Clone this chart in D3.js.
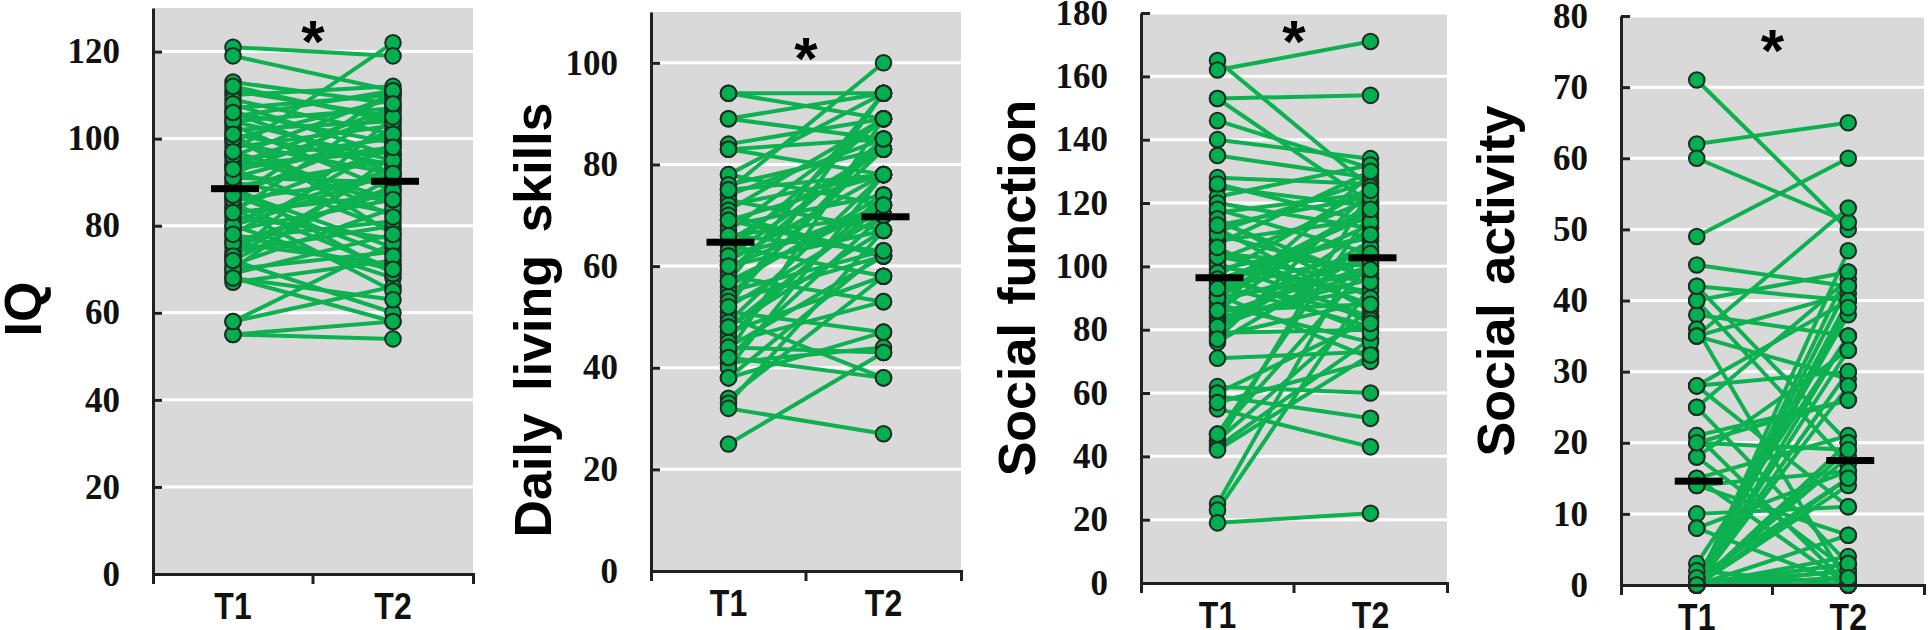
<!DOCTYPE html>
<html lang="en">
<head>
    <meta charset="UTF-8">
    <title>Paired scores at T1 and T2</title>
    <script src="https://d3js.org/d3.v7.min.js"></script>
    <style>
        body { margin: 0; background: #fff; }
        .pair { stroke: #0db14f; stroke-width: 4; }
        .dot { fill: #00b050; stroke: #1f2a20; stroke-width: 2; }
        .title { font-family: "Liberation Sans", Arial, sans-serif; font-weight: bold; font-size: 52px; fill: #000; }
        .star { font-family: "Liberation Sans", Arial, sans-serif; font-weight: bold; font-size: 60px; fill: #000; }
    </style>
</head>
<body>
    <svg width="1929" height="630"></svg>
    <script>
        // Data
        const timepoints = ["T1", "T2"];
        const measures = ["IQ", "Daily living skills", "Social function", "Social activity"];
        const yMax = [130, 110, 180, 80];
        const yTicks = [
            [0, 20, 40, 60, 80, 100, 120],
            [0, 20, 40, 60, 80, 100],
            [0, 20, 40, 60, 80, 100, 120, 140, 160, 180],
            [0, 10, 20, 30, 40, 50, 60, 70, 80]
        ];

        const iqT1 = [97, 121, 119, 113, 88, 103, 72, 111, 68, 92, 85, 110, 80, 101, 55, 109, 93, 76, 107, 58, 96, 84,
            106, 70, 90, 104, 78, 82, 100, 67, 89, 99, 74, 87, 102, 71, 95, 81, 55, 98, 69, 86, 94, 77, 91, 73, 83, 75,
            79, 108, 89, 84, 105, 100, 94, 80, 76, 70, 96, 112, 73, 58, 68, 86,
            104, 97, 91, 87, 83, 78, 72, 93, 101, 106];
        const iqT2 = [122, 119, 111, 108, 75, 88, 60, 105, 58, 106, 70, 112, 68, 94, 54, 101, 79, 71, 110, 66, 85, 98,
            99, 74, 83, 107, 99, 77, 109, 72, 95, 92, 80, 102, 104, 84, 100, 93, 58, 103, 78, 91, 97, 81, 90, 94, 87, 89,
            86, 96, 69, 65, 111, 82, 107, 92, 88, 96, 110, 104, 105, 76, 63, 111,
            95, 86, 101, 73, 108, 70, 91, 98, 78, 92];

        const dailyT1 = [94, 94, 89, 89, 84, 83, 83, 78, 78, 76, 75, 74, 73, 72, 71, 70, 69, 68, 67, 66, 65, 64, 63,
            62, 61, 60, 59, 58, 57, 56, 55, 54, 53, 52, 51, 50, 49, 48, 47, 46, 45, 44, 43, 42, 41, 40, 38, 38, 34, 33,
            32, 25, 57, 62, 69, 48, 53, 44, 66, 75, 42, 52, 60];
        const dailyT2 = [89, 94, 94, 85, 89, 78, 85, 94, 72, 83, 100, 85, 67, 78, 89, 62, 78, 74, 89, 70, 83, 58, 89,
            70, 78, 67, 85, 53, 72, 74, 63, 83, 62, 70, 47, 38, 78, 67, 58, 74, 53, 62, 89, 70, 44, 78, 63, 47, 58, 67,
            27, 43, 94, 83, 62, 72, 85, 43, 63, 78, 38, 94, 72];

        const socialT1 = [165, 162, 153, 146, 140, 135, 128, 125, 122, 120, 117, 114, 111, 108, 105, 102, 99, 96, 93,
            90, 87, 84, 81, 79, 76, 71, 62, 59, 55, 47, 45, 44, 43, 25, 23, 19, 118, 112, 107, 104, 100, 97, 94, 92, 89,
            86, 83, 80, 78, 88, 95, 101, 110, 115, 91, 85, 82, 98, 60, 47, 57, 153, 42,
            126, 113, 103, 96, 90, 86, 81, 77, 106, 93];
        const socialT2 = [125, 171, 154, 131, 134, 128, 126, 119, 132, 112, 123, 96, 127, 115, 88, 121, 109, 84, 118,
            98, 129, 93, 112, 80, 105, 73, 60, 52, 43, 117, 87, 124, 77, 110, 94, 22, 104, 86, 130, 100, 92, 125, 81, 113,
            102, 120, 96, 108, 89, 76, 116, 84, 97, 90, 71, 100, 106, 79, 83, 101, 70, 120, 72,
            114, 122, 95, 110, 118, 88, 99, 124, 82, 104];

        const activityT1 = [71, 62, 60, 49, 45, 42, 40, 38, 36, 35, 35, 28, 28, 25, 21, 20, 18, 15, 14, 10, 8, 3, 1, 0,
            0, 0, 0, 0, 0, 0, 0, 0, 0, 0, 0, 0, 0, 0, 0, 0, 0, 21, 18, 15, 40, 42, 25, 8, 14, 35, 20, 0, 0, 28, 0, 0, 0,
            0, 0, 2, 0, 0, 1, 0, 0];
        const activityT2 = [50, 65, 51, 60, 42, 40, 44, 35, 0, 41, 29, 30, 40, 43, 26, 19, 33, 21, 7, 11, 16, 35, 38,
            47, 44, 42, 40, 39, 35, 30, 28, 20, 18, 15, 4, 3, 2, 1, 0, 0, 0, 0, 2, 0, 17, 20, 3, 0, 16, 53, 26, 14, 33,
            11, 7, 0, 0, 1, 2, 0, 3, 19, 15, 0, 1];

        const seriesT1 = [iqT1, dailyT1, socialT1, activityT1];
        const seriesT2 = [iqT2, dailyT2, socialT2, activityT2];
        const meansT1 = [88.5, 64.7, 96.4, 14.6];
        const meansT2 = [90.2, 69.7, 102.7, 17.5];

        // Panel placement (pixels)
        const layout = [
            { left: 153, right: 473, bottom: 574, top: 8, titleX: 41, titleY: 309, starY: 62, wordGap: 0 },
            { left: 651, right: 961, bottom: 571, top: 12, titleX: 551, titleY: 320, starY: 79, wordGap: 8 },
            { left: 1141, right: 1447, bottom: 583, top: 13, titleX: 1035, titleY: 288, starY: 62, wordGap: 4 },
            { left: 1621, right: 1924, bottom: 585, top: 16, titleX: 1514, titleY: 281, starY: 71, wordGap: 4 }
        ];

        const svg = d3.select("svg");
        const axisColor = "#231f20";

        measures.forEach((name, i) => {
            const L = layout[i];
            const x = d3.scaleBand().domain(timepoints).range([L.left, L.right]);
            const y = d3.scaleLinear().domain([0, yMax[i]]).range([L.bottom, L.top]);
            const cx = t => x(t) + x.bandwidth() / 2;
            const g = svg.append("g");

            // grey plot area
            g.append("rect")
                .attr("x", L.left)
                .attr("y", y(yMax[i]))
                .attr("width", L.right - L.left)
                .attr("height", y(0) - y(yMax[i]))
                .attr("fill", "#d9d9d9");

            // white gridlines
            g.selectAll(".grid")
                .data(yTicks[i].filter(t => t > 0))
                .join("line")
                .attr("x1", L.left)
                .attr("x2", L.right)
                .attr("y1", d => y(d))
                .attr("y2", d => y(d))
                .attr("stroke", "#fff")
                .attr("stroke-width", 3);

            const pairs = d3.zip(seriesT1[i], seriesT2[i]);

            // subject lines
            g.selectAll(".pair")
                .data(pairs)
                .join("line")
                .attr("class", "pair")
                .attr("x1", cx("T1"))
                .attr("x2", cx("T2"))
                .attr("y1", d => y(d[0]))
                .attr("y2", d => y(d[1]));

            // dots
            timepoints.forEach((t, k) => {
                g.selectAll(".dot" + t)
                    .data(k === 0 ? seriesT1[i] : seriesT2[i])
                    .join("circle")
                    .attr("class", "dot")
                    .attr("cx", cx(t))
                    .attr("cy", d => y(d))
                    .attr("r", 7.8);
            });

            // mean bars
            g.selectAll(".mean")
                .data([meansT1[i], meansT2[i]])
                .join("rect")
                .attr("x", (d, k) => cx(timepoints[k]) + 2 - 24)
                .attr("y", d => y(d) - 3.5)
                .attr("width", 48)
                .attr("height", 7)
                .attr("fill", "#000");

            // y axis
            const yAxis = g.append("g")
                .attr("transform", `translate(${L.left},0)`)
                .call(d3.axisLeft(y).tickValues(yTicks[i]).tickSize(-9).tickSizeOuter(0).tickPadding(33)
                    .tickFormat(d3.format("d")))
                .attr("color", axisColor)
                .attr("font-family", "'Liberation Serif', 'Times New Roman', serif")
                .attr("font-size", 35)
                .attr("font-weight", "bold");
            yAxis.selectAll("path, line").attr("stroke-width", 3);
            yAxis.selectAll("text").attr("fill", "#111");

            // x axis
            const xAxis = g.append("g")
                .attr("transform", `translate(0,${y(0)})`)
                .call(d3.axisBottom(x).tickSizeInner(0).tickSizeOuter(10))
                .attr("color", axisColor)
                .attr("font-family", "'Liberation Sans', Arial, sans-serif")
                .attr("font-size", 32)
                .attr("font-weight", "bold");
            xAxis.selectAll("path").attr("stroke-width", 3);
            xAxis.selectAll(".tick line").remove();
            xAxis.selectAll(".tick").attr("transform", d => `translate(${cx(d)},0)`);
            xAxis.selectAll("text")
                .attr("dy", null)
                .attr("y", 39.1)
                .attr("transform", "scale(1,1.15)")
                .attr("fill", "#111");
            xAxis.append("line")
                .attr("x1", x("T2"))
                .attr("x2", x("T2"))
                .attr("y1", 0)
                .attr("y2", 10)
                .attr("stroke", axisColor)
                .attr("stroke-width", 3);

            // axis title
            g.append("text")
                .attr("class", "title")
                .attr("transform", `translate(${L.titleX},${L.titleY}) rotate(-90)`)
                .attr("text-anchor", "middle")
                .attr("word-spacing", L.wordGap)
                .text(name);

            // significance mark
            g.append("text")
                .attr("class", "star")
                .attr("x", x("T2"))
                .attr("y", L.starY)
                .attr("text-anchor", "middle")
                .text("*");
        });
    </script>
</body>
</html>
